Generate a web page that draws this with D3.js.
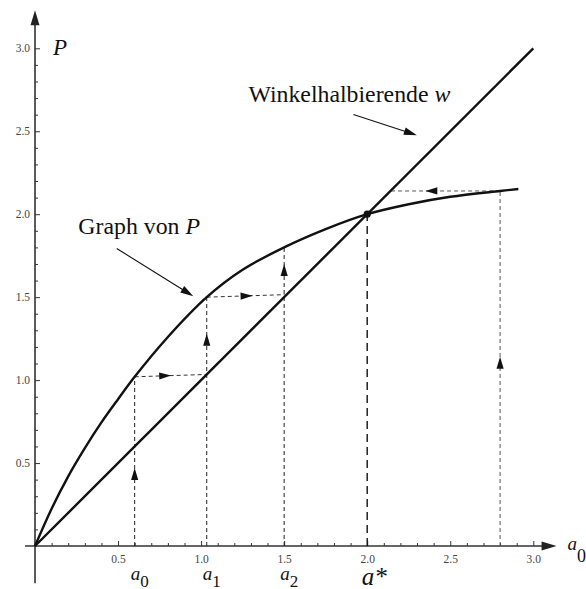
<!DOCTYPE html>
<html><head><meta charset="utf-8">
<script src="https://cdn.jsdelivr.net/npm/d3@7"></script>
<style>body{margin:0;background:#fff}svg{display:block}</style>
</head><body>
<script>
// ---- data ----
const curveA = [0, 0.1, 0.2, 0.3, 0.4, 0.5, 0.6, 0.8, 1.034, 1.25, 1.5, 1.75, 2.0, 2.25, 2.5, 2.8, 2.91];
const curveP = [0, 0.225, 0.42, 0.59, 0.745, 0.885, 1.02, 1.26, 1.50, 1.665, 1.80, 1.91, 2.00, 2.06, 2.105, 2.14, 2.152];
const diagA = [0, 3];
const diagW = [0, 3];
const majorTicks = [0.5, 1.0, 1.5, 2.0, 2.5, 3.0];
const fixedPoint = [2, 2];
// cobweb verticals
const vertX = [0.6, 1.034, 1.5, 2.8];
const vertTop = [1.02, 1.50, 1.80, 2.14];
const vertArrowTip = [0.47, 1.28, 1.70, 1.14];
// cobweb horizontals
const horFrom = [[0.6, 1.02], [1.034, 1.50], [2.8, 2.14]];
const horTo = [[1.034, 1.034], [1.502, 1.515], [2.14, 2.14]];
const horArrowTip = [0.82, 1.31, 2.35];
// labels under the axis
const iterNames = ["a", "a", "a"];
const iterSubs = ["0", "1", "2"];
const iterX = [0.6, 1.034, 1.5];
const starLabel = "a*";
// annotations
const annGraph = {text: "Graph von ", italic: "P", at: [0.261, 1.88], from: [0.492, 1.793], to: [0.953, 1.506]};
const annW = {text: "Winkelhalbierende ", italic: "w", at: [1.285, 2.677], from: [1.917, 2.601], to: [2.299, 2.476]};

// ---- drawing ----
const FONT = "Liberation Serif";
const W = 586, H = 589;
const svg = d3.select("body").append("svg").attr("width", W).attr("height", H).attr("font-family", FONT);
const x = d3.scaleLinear().domain([0, 3]).range([35, 533.3]);
const y = d3.scaleLinear().domain([0, 3]).range([546, 48.3]);

function arrowHead(g, tx, ty, ang, L, hw, fill) {
  const c = Math.cos(ang), s = Math.sin(ang);
  const bx = tx - L * c, by = ty - L * s;
  const p = [[tx, ty], [bx - hw * s, by + hw * c], [bx + hw * s, by - hw * c]];
  g.append("path").attr("d", "M" + p.map(d => d.join(",")).join("L") + "Z").attr("fill", fill || "#111");
}
function addText(g) {
  return g.append("text").attr("font-family", FONT);
}

// axes lines with arrows
const axisG = svg.append("g");
axisG.append("line").attr("x1", x(-0.06)).attr("x2", x(3.08)).attr("y1", y(0)).attr("y2", y(0))
  .attr("stroke", "#333").attr("stroke-width", 1.6);
arrowHead(axisG, x(3.14), y(0), 0, 15, 4.5, "#222");
axisG.append("line").attr("y1", y(-0.225)).attr("y2", y(3.16)).attr("x1", x(0)).attr("x2", x(0))
  .attr("stroke", "#333").attr("stroke-width", 1.6);
arrowHead(axisG, x(0), y(3.23), -Math.PI / 2, 15, 4.5, "#222");

const minor = x.ticks(30).filter(d => d > 0 && majorTicks.indexOf(+d.toFixed(1)) < 0);
function styleAxis(g) {
  g.select(".domain").remove();
  g.attr("font-family", FONT).attr("font-size", 11.5);
  g.selectAll("line").attr("stroke", "#333").attr("stroke-width", 1);
  g.selectAll("text").attr("fill", "#444").attr("font-family", FONT);
}
svg.append("g").attr("transform", `translate(0,${y(0)})`)
  .call(d3.axisBottom(x).tickValues(majorTicks).tickSize(-5).tickPadding(8.5).tickFormat(d3.format(".1f")))
  .call(styleAxis);
svg.append("g").attr("transform", `translate(0,${y(0)})`)
  .call(d3.axisBottom(x).tickValues(minor).tickSize(-3).tickFormat(""))
  .call(styleAxis);
svg.append("g").attr("transform", `translate(${x(0)},0)`)
  .call(d3.axisLeft(y).tickValues(majorTicks).tickSize(-5).tickPadding(5).tickFormat(d3.format(".1f")))
  .call(styleAxis);
svg.append("g").attr("transform", `translate(${x(0)},0)`)
  .call(d3.axisLeft(y).tickValues(minor).tickSize(-3).tickFormat(""))
  .call(styleAxis);

// cobweb dashed lines
const cob = svg.append("g");
vertX.forEach((a, i) => {
  cob.append("line").attr("x1", x(a)).attr("x2", x(a)).attr("y1", y(0)).attr("y2", y(vertTop[i]))
    .attr("stroke", i === 3 ? "#555" : "#222").attr("stroke-width", 1).attr("stroke-dasharray", "4,3");
  arrowHead(cob, x(a), y(vertArrowTip[i]), -Math.PI / 2, 12, 3.6);
});
horFrom.forEach((f, i) => {
  const t = horTo[i];
  cob.append("line").attr("x1", x(f[0])).attr("y1", y(f[1])).attr("x2", x(t[0])).attr("y2", y(t[1]))
    .attr("stroke", i === 2 ? "#555" : "#333").attr("stroke-width", 1).attr("stroke-dasharray", "4,3");
  const ang = Math.atan2(y(t[1]) - y(f[1]), x(t[0]) - x(f[0]));
  const frac = (horArrowTip[i] - f[0]) / (t[0] - f[0]);
  const ay = y(f[1] + frac * (t[1] - f[1]));
  arrowHead(cob, x(horArrowTip[i]), ay, ang, 12, 3.6);
});
// fixed point vertical
cob.append("line").attr("x1", x(fixedPoint[0])).attr("x2", x(fixedPoint[0]))
  .attr("y1", y(0)).attr("y2", y(fixedPoint[1]))
  .attr("stroke", "#111").attr("stroke-width", 1.4).attr("stroke-dasharray", "8,5");

// diagonal and curve
const line = d3.line().x(d => x(d[0])).y(d => y(d[1]));
svg.append("path").attr("d", line(diagA.map((a, i) => [a, diagW[i]])))
  .attr("fill", "none").attr("stroke", "#111").attr("stroke-width", 2.4);
svg.append("path").attr("d", line.curve(d3.curveCatmullRom.alpha(0.5))(curveA.map((a, i) => [a, curveP[i]])))
  .attr("fill", "none").attr("stroke", "#111").attr("stroke-width", 2.4);
svg.append("circle").attr("cx", x(fixedPoint[0])).attr("cy", y(fixedPoint[1])).attr("r", 3.6).attr("fill", "#111");

// axis labels
addText(svg).attr("x", x(0) + 18).attr("y", y(2.958)).attr("font-style", "italic")
  .attr("font-size", 23).attr("fill", "#111").text("P");
const r0 = addText(svg).attr("x", x(3.14) + 11).attr("y", y(0) + 3.5).attr("font-size", 19).attr("fill", "#111");
r0.append("tspan").attr("font-style", "italic").text("a");
r0.append("tspan").attr("dy", 12.4).attr("font-size", 18).text("0");

iterX.forEach((a, i) => {
  const t = addText(svg).attr("x", x(a) - 4).attr("y", 579.5).attr("font-size", 19).attr("fill", "#111");
  t.append("tspan").attr("font-style", "italic").text(iterNames[i]);
  t.append("tspan").attr("dy", 7.4).attr("font-size", 17).text(iterSubs[i]);
});
addText(svg).attr("x", x(fixedPoint[0]) - 5.5).attr("y", 585).attr("font-style", "italic")
  .attr("font-size", 25).attr("fill", "#111").text(starLabel);

// annotations
[annGraph, annW].forEach(an => {
  const t = addText(svg).attr("x", x(an.at[0])).attr("y", y(an.at[1])).attr("font-size", 23.8).attr("fill", "#111");
  t.append("tspan").text(an.text);
  t.append("tspan").attr("font-style", "italic").text(an.italic);
  const ang = Math.atan2(y(an.to[1]) - y(an.from[1]), x(an.to[0]) - x(an.from[0]));
  svg.append("line").attr("x1", x(an.from[0])).attr("y1", y(an.from[1]))
    .attr("x2", x(an.to[0]) - 8 * Math.cos(ang)).attr("y2", y(an.to[1]) - 8 * Math.sin(ang))
    .attr("stroke", "#111").attr("stroke-width", 1.1);
  arrowHead(svg, x(an.to[0]), y(an.to[1]), ang, 13, 3.8);
});
</script>
</body></html>
